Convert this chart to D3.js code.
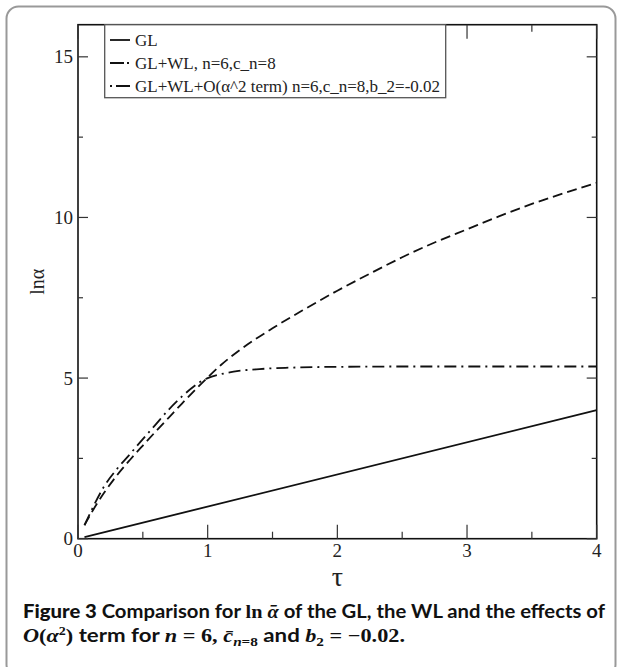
<!DOCTYPE html>
<html>
<head>
<meta charset="utf-8">
<script src="https://cdn.jsdelivr.net/npm/d3@7/dist/d3.min.js"></script>
<style>
  html, body { margin: 0; padding: 0; background: #fff; }
  svg { display: block; }
</style>
</head>
<body>
<svg id="chart" width="622" height="667"></svg>
<script>
// ---- data ----
const tauGL = [0.05, 4.0];
const valGL = [0.05, 4.0];

const tauWL = [0.05, 0.1, 0.2, 0.3, 0.4, 0.5, 0.6, 0.7, 0.8, 0.9, 1.0, 1.1, 1.25, 1.5, 1.75, 2.0, 2.25, 2.5, 2.75, 3.0, 3.25, 3.5, 3.75, 4.0];
const valWL = [0.42, 0.78, 1.42, 1.97, 2.45, 2.9, 3.34, 3.77, 4.2, 4.62, 5.02, 5.4, 5.88, 6.55, 7.15, 7.72, 8.25, 8.76, 9.22, 9.63, 10.04, 10.42, 10.76, 11.08];

const tauO2 = [0.05, 0.1, 0.2, 0.3, 0.4, 0.5, 0.6, 0.7, 0.8, 0.9, 0.95, 1.0, 1.1, 1.2, 1.4, 1.6, 2.0, 2.5, 3.0, 4.0];
const valO2 = [0.42, 0.85, 1.62, 2.17, 2.63, 3.1, 3.56, 4.02, 4.42, 4.76, 4.9, 5.0, 5.12, 5.2, 5.28, 5.32, 5.35, 5.36, 5.36, 5.36];

const xMajor = [0, 1, 2, 3, 4];
const xMinor = [0.5, 1.5, 2.5, 3.5];
const yMajor = [0, 5, 10, 15];
const yMinor = [2.5, 7.5, 12.5];

const legendLabels = ["GL", "GL+WL, n=6,c_n=8", "GL+WL+O(\u03b1^2 term) n=6,c_n=8,b_2=-0.02"];

// ---- layout ----
const svg = d3.select("#chart");
const L = 78, R = 596.7, T = 24.7, B = 538.7;
const x = d3.scaleLinear().domain([0, 4]).range([L, R]);
const y = d3.scaleLinear().domain([0, 16]).range([B, T]);

// outer frame
svg.append("rect")
  .attr("x", 6.5).attr("y", 6.5).attr("width", 609).attr("height", 670)
  .attr("rx", 12).attr("ry", 12)
  .attr("fill", "none").attr("stroke", "#999").attr("stroke-width", 2);

const serif = "'Liberation Serif', 'DejaVu Serif', serif";

// curves
const line = d3.line().x(d => x(d[0])).y(d => y(d[1])).curve(d3.curveMonotoneX);
const g = svg.append("g");
g.append("path").datum(d3.zip(tauGL, valGL)).attr("d", line)
  .attr("fill", "none").attr("stroke", "#111").attr("stroke-width", 1.8);
g.append("path").datum(d3.zip(tauWL, valWL)).attr("d", line)
  .attr("fill", "none").attr("stroke", "#111").attr("stroke-width", 1.8)
  .attr("stroke-dasharray", "10,5");
g.append("path").datum(d3.zip(tauO2, valO2)).attr("d", line)
  .attr("fill", "none").attr("stroke", "#111").attr("stroke-width", 1.8)
  .attr("stroke-dasharray", "12,5,2,5");

// frame of plot
svg.append("rect").attr("x", L).attr("y", T).attr("width", R - L).attr("height", B - T)
  .attr("fill", "none").attr("stroke", "#111").attr("stroke-width", 1.6);

// ticks (inward, all sides)
const tk = svg.append("g").attr("stroke", "#333").attr("stroke-width", 1.2);
xMajor.forEach(v => {
  tk.append("line").attr("x1", x(v)).attr("x2", x(v)).attr("y1", B).attr("y2", B - 14);
  tk.append("line").attr("x1", x(v)).attr("x2", x(v)).attr("y1", T).attr("y2", T + 14);
});
xMinor.forEach(v => {
  tk.append("line").attr("x1", x(v)).attr("x2", x(v)).attr("y1", B).attr("y2", B - 7);
  tk.append("line").attr("x1", x(v)).attr("x2", x(v)).attr("y1", T).attr("y2", T + 7);
});
yMajor.forEach(v => {
  tk.append("line").attr("x1", L).attr("x2", L + 10).attr("y1", y(v)).attr("y2", y(v));
  tk.append("line").attr("x1", R).attr("x2", R - 10).attr("y1", y(v)).attr("y2", y(v));
});
yMinor.forEach(v => {
  tk.append("line").attr("x1", L).attr("x2", L + 5).attr("y1", y(v)).attr("y2", y(v));
  tk.append("line").attr("x1", R).attr("x2", R - 5).attr("y1", y(v)).attr("y2", y(v));
});

// tick labels
svg.append("g").selectAll("text").data(xMajor).join("text")
  .attr("x", d => x(d)).attr("y", B + 18.5).attr("text-anchor", "middle")
  .attr("font-family", serif).attr("font-size", 19).attr("fill", "#222")
  .text(d => d);
svg.append("g").selectAll("text").data(yMajor).join("text")
  .attr("x", L - 5).attr("y", d => y(d) + 6.5).attr("text-anchor", "end")
  .attr("font-family", serif).attr("font-size", 19).attr("fill", "#222")
  .text(d => d);

// axis labels
svg.append("text").attr("x", (L + R) / 2).attr("y", 586).attr("text-anchor", "middle")
  .attr("font-family", serif).attr("font-size", 28).attr("fill", "#222").text("\u03c4");
svg.append("text").attr("transform", `translate(44,${(T + B) / 2}) rotate(-90)`)
  .attr("text-anchor", "middle")
  .attr("font-family", serif).attr("font-size", 20).attr("fill", "#222").text("ln\u03b1");

// legend
const lg = svg.append("g");
const LX = 104.7, LW = 341, LH = 73;
lg.append("rect").attr("x", LX).attr("y", T).attr("width", LW).attr("height", LH)
  .attr("fill", "#fff").attr("stroke", "#555").attr("stroke-width", 1.3);
const rowY = [40, 63, 86];
const dashes = [null, "14,3,2,10", "2,4,15"];
legendLabels.forEach((lab, i) => {
  const l = lg.append("line").attr("x1", 110).attr("x2", 130)
    .attr("y1", rowY[i]).attr("y2", rowY[i])
    .attr("stroke", "#111").attr("stroke-width", 1.8);
  if (dashes[i]) l.attr("stroke-dasharray", dashes[i]);
  lg.append("text").attr("x", 135).attr("y", rowY[i] + 5.5)
    .attr("font-family", serif).attr("font-size", 17).attr("fill", "#222").text(lab);
});

// caption
const sans = "Lato, 'Open Sans', sans-serif";
const cap1 = svg.append("text").attr("x", 23).attr("y", 618)
  .attr("font-family", sans).attr("font-size", 19).attr("fill", "#111")
  .attr("textLength", 582).attr("lengthAdjust", "spacingAndGlyphs");
cap1.append("tspan").attr("font-weight", 900).text("Figure 3 ");
cap1.append("tspan").attr("font-weight", 700).text("Comparison for ");
cap1.append("tspan").attr("font-family", serif).attr("font-weight", 700).text("ln ");
cap1.append("tspan").attr("font-family", serif).attr("font-weight", 700).attr("font-style", "italic").text("\u03b1\u0304");
cap1.append("tspan").attr("font-weight", 700).text(" of the GL, the WL and the effects of");

const cap2 = svg.append("text").attr("x", 23).attr("y", 642)
  .attr("font-family", sans).attr("font-size", 19).attr("fill", "#111").attr("font-weight", 700)
  .attr("textLength", 382).attr("lengthAdjust", "spacingAndGlyphs");
cap2.append("tspan").attr("font-family", serif).attr("font-style", "italic").text("O");
cap2.append("tspan").attr("font-family", serif).text("(");
cap2.append("tspan").attr("font-family", serif).attr("font-style", "italic").text("\u03b1");
cap2.append("tspan").attr("font-family", serif).attr("font-size", 12).attr("dy", -7).text("2");
cap2.append("tspan").attr("font-family", serif).attr("dy", 7).text(")");
cap2.append("tspan").text(" term for ");
cap2.append("tspan").attr("font-family", serif).attr("font-style", "italic").text("n");
cap2.append("tspan").attr("font-family", serif).text(" = 6, ");
cap2.append("tspan").attr("font-family", serif).attr("font-style", "italic").text("c\u0304");
cap2.append("tspan").attr("font-family", serif).attr("font-style", "italic").attr("font-size", 13).attr("dy", 4).text("n");
cap2.append("tspan").attr("font-family", serif).attr("font-size", 13).text("=8");
cap2.append("tspan").attr("dy", -4).text(" and ");
cap2.append("tspan").attr("font-family", serif).attr("font-style", "italic").text("b");
cap2.append("tspan").attr("font-family", serif).attr("font-size", 13).attr("dy", 4).text("2");
cap2.append("tspan").attr("font-family", serif).attr("dy", -4).text(" = \u22120.02.");
</script>
</body>
</html>
